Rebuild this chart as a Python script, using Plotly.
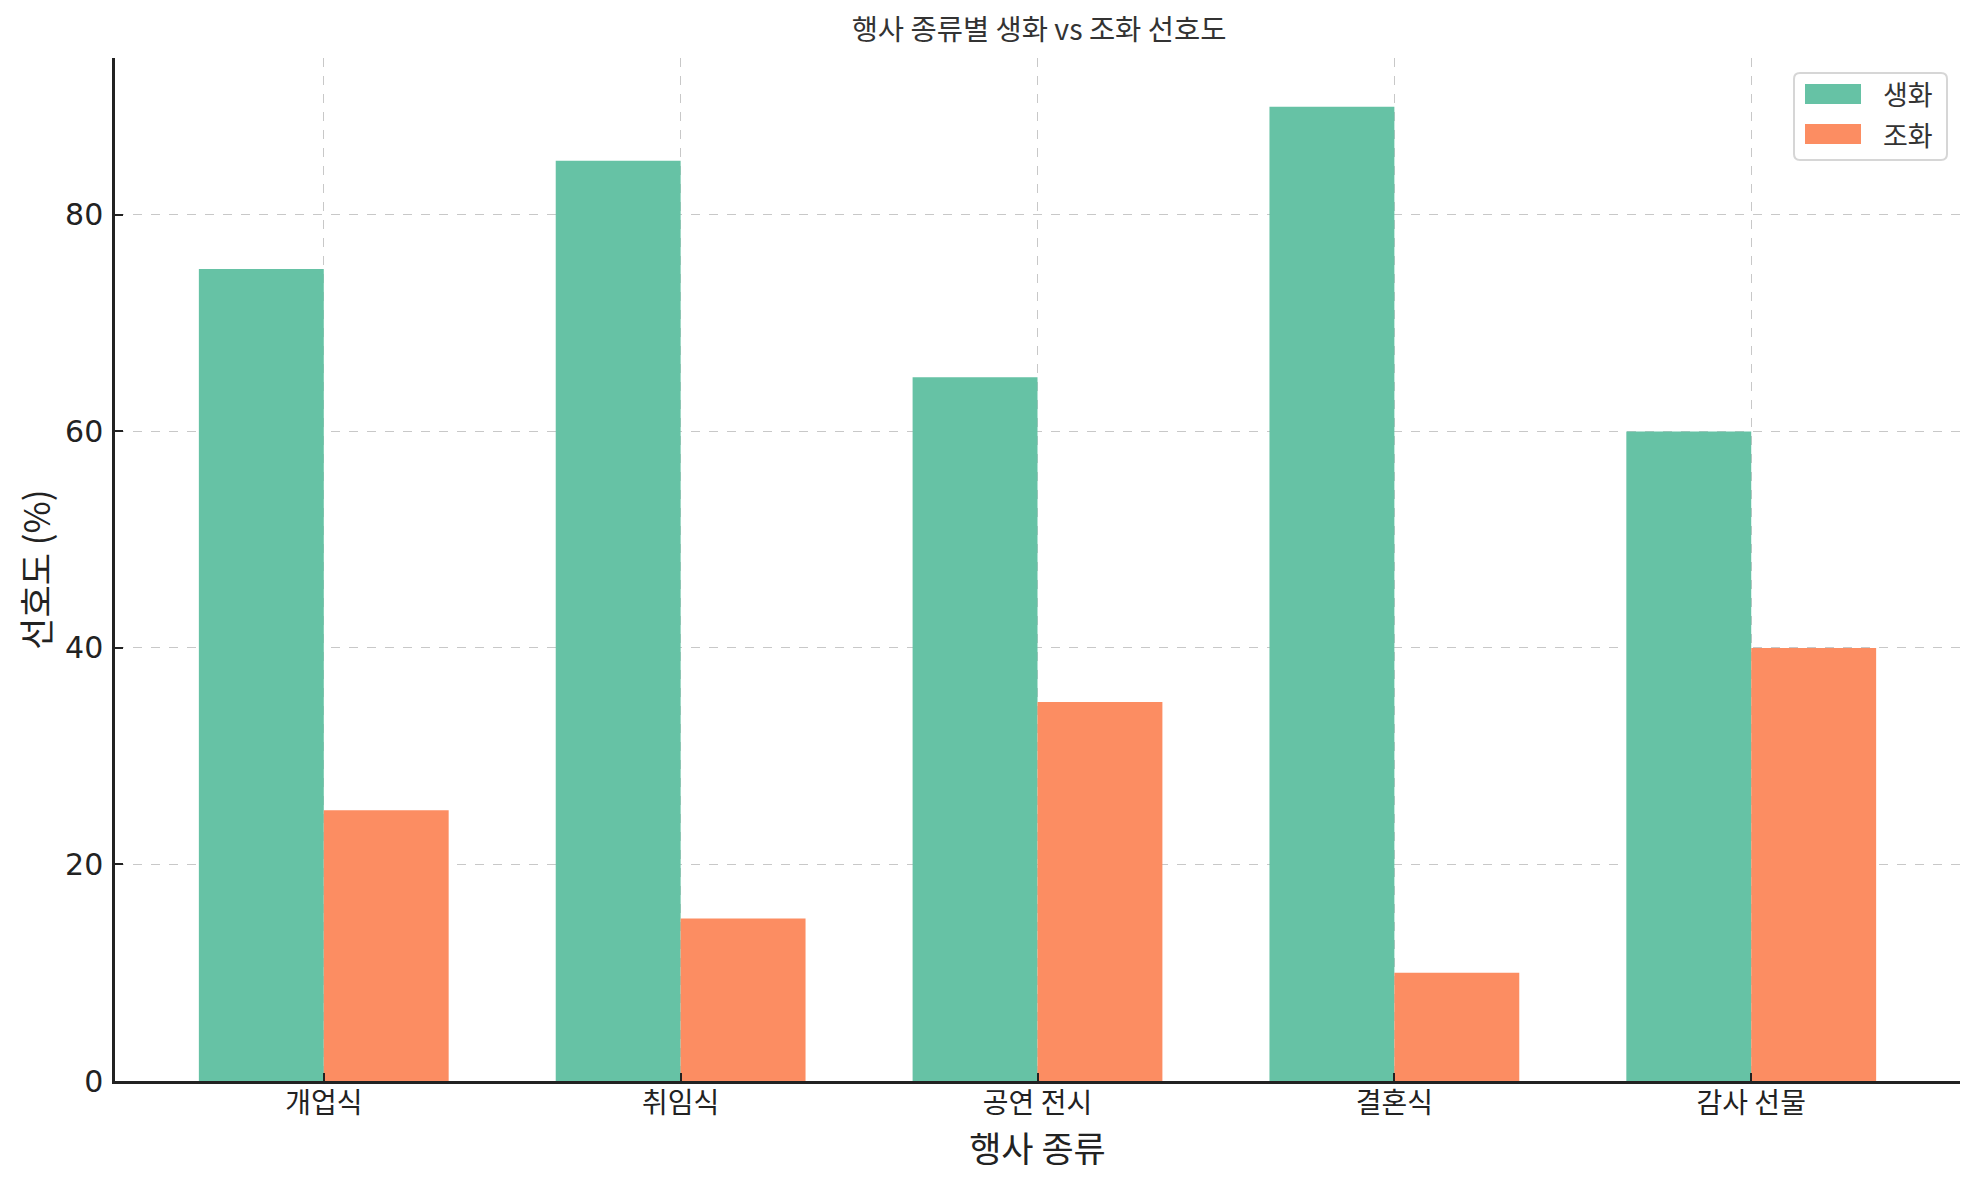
import plotly.graph_objects as go

categories = ["개업식", "취임식", "공연 전시", "결혼식", "감사 선물"]
fresh = [75, 85, 65, 90, 60]
artificial = [25, 15, 35, 10, 40]
y_ticks = [0, 20, 40, 60, 80]
series_names = ["생화", "조화"]
series_colors = ["#66c2a5", "#fc8d62"]

xi = list(range(len(categories)))
w = 0.35
kfont = "Noto Sans CJK KR"

# page body has an 8px margin; work in window pixels and offset
OFF = 8
W, H = 1979 - OFF, 1180 - OFF
L, R, T, B = 115 - OFF, 19, 58 - OFF, 99
PW, PH = W - L - R, H - T - B


def px(x):
    return (x - OFF - L) / PW


def py(y):
    return (H - B - (y - OFF)) / PH


fig = go.Figure()
fig.add_trace(go.Bar(x=[i - w / 2 for i in xi], y=fresh, width=w, name=series_names[0],
                     marker=dict(color=series_colors[0], line=dict(width=0))))
fig.add_trace(go.Bar(x=[i + w / 2 for i in xi], y=artificial, width=w, name=series_names[1],
                     marker=dict(color=series_colors[1], line=dict(width=0))))

# custom legend (matplotlib style)
shapes = []
annotations = []
x0, x1, y0, y1, r = 1794, 1947, 73, 160, 6
path = (f"M {px(x0 + r)} {py(y0)} L {px(x1 - r)} {py(y0)} Q {px(x1)} {py(y0)} {px(x1)} {py(y0 + r)} "
        f"L {px(x1)} {py(y1 - r)} Q {px(x1)} {py(y1)} {px(x1 - r)} {py(y1)} "
        f"L {px(x0 + r)} {py(y1)} Q {px(x0)} {py(y1)} {px(x0)} {py(y1 - r)} "
        f"L {px(x0)} {py(y0 + r)} Q {px(x0)} {py(y0)} {px(x0 + r)} {py(y0)} Z")
shapes.append(dict(type="path", xref="paper", yref="paper", path=path,
                   line=dict(color="#d6d6d6", width=2), fillcolor="rgba(255,255,255,0.85)", layer="above"))
for k, (nm, col) in enumerate(zip(series_names, series_colors)):
    cy = 94 + 40 * k
    shapes.append(dict(type="rect", xref="paper", yref="paper",
                       x0=px(1805), x1=px(1861), y0=py(cy - 10), y1=py(cy + 10),
                       fillcolor=col, line=dict(width=0), layer="above"))
    annotations.append(dict(text=nm, xref="paper", yref="paper", x=px(1881), y=py(cy),
                            xanchor="left", yanchor="middle", showarrow=False,
                            font=dict(family=kfont, size=27, color="#333333")))

fig.update_layout(
    width=W, height=H,
    paper_bgcolor="white", plot_bgcolor="white",
    margin=dict(l=L, r=R, t=T, b=B),
    barmode="overlay",
    title=dict(text="행사 종류별 생화 vs 조화 선호도", x=(1039 - OFF) / W, xanchor="center",
               y=1 - (30 - OFF) / H, yanchor="middle", automargin=False,
               font=dict(family=kfont, size=28.5, color="#333333")),
    font=dict(family=kfont, color="#222222"),
    showlegend=False,
    shapes=shapes,
    annotations=annotations,
)
fig.update_xaxes(
    range=[-0.585, 4.585],
    tickmode="array", tickvals=xi, ticktext=categories,
    tickfont=dict(family=kfont, size=28, color="#222222"),
    title=dict(text="행사 종류", font=dict(family=kfont, size=35, color="#222222"), standoff=0),
    showline=True, linecolor="#222222", linewidth=2.5,
    ticks="inside", ticklen=8, tickwidth=1.5, tickcolor="#222222",
    ticklabelstandoff=-4,
    showgrid=True, gridcolor="#c8c8c8", griddash="dash", gridwidth=1,
    zeroline=False, automargin=False,
)
fig.update_yaxes(
    range=[0, 94.5],
    tickmode="array", tickvals=y_ticks,
    tickfont=dict(family="DejaVu Sans", size=30, color="#222222"),
    title=dict(text="선호도 (%)", font=dict(family=kfont, size=35, color="#222222"), standoff=4),
    showline=True, linecolor="#222222", linewidth=2.5,
    ticks="inside", ticklen=8, tickwidth=1.5, tickcolor="#222222",
    ticklabelstandoff=3,
    showgrid=True, gridcolor="#c8c8c8", griddash="dash", gridwidth=1,
    zeroline=False, automargin=False,
)
fig.write_html("out.html")
